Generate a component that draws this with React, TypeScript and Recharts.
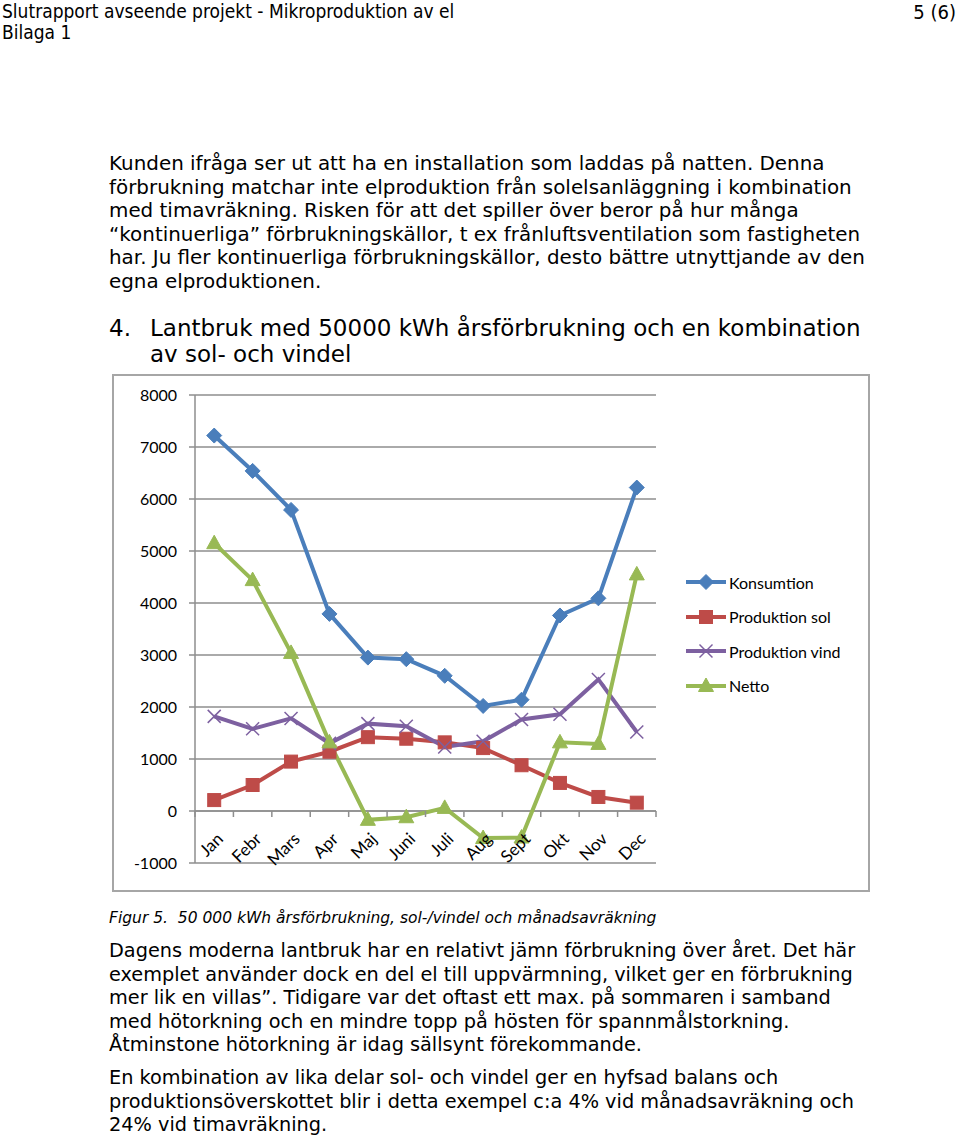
import React from 'react';
import {CartesianGrid, Legend, Line, LineChart, ReferenceLine, XAxis, YAxis} from 'recharts';

const months = ['Jan', 'Febr', 'Mars', 'Apr', 'Maj', 'Juni', 'Juli', 'Aug', 'Sept', 'Okt', 'Nov', 'Dec'];
const konsumtion = [7220, 6540, 5790, 3790, 2950, 2920, 2600, 2020, 2140, 3760, 4090, 6220];
const produktionSol = [210, 500, 950, 1140, 1420, 1390, 1320, 1210, 880, 540, 270, 160];
const produktionVind = [1820, 1580, 1780, 1300, 1680, 1630, 1230, 1340, 1760, 1860, 2530, 1520];
const netto = [5150, 4440, 3040, 1320, -170, -120, 60, -520, -510, 1320, 1290, 4550];
const yTicks = [-1000, 0, 1000, 2000, 3000, 4000, 5000, 6000, 7000, 8000];
const legendOrder = ['konsumtion', 'sol', 'vind', 'netto'];

const paragraph1 = [
    'Kunden ifråga ser ut att ha en installation som laddas på natten. Denna',
    'förbrukning matchar inte elproduktion från solelsanläggning i kombination',
    'med timavräkning. Risken för att det spiller över beror på hur många',
    '“kontinuerliga” förbrukningskällor, t ex frånluftsventilation som fastigheten',
    'har. Ju fler kontinuerliga förbrukningskällor, desto bättre utnyttjande av den',
    'egna elproduktionen.',
];
const paragraph2 = [
    'Dagens moderna lantbruk har en relativt jämn förbrukning över året. Det här',
    'exemplet använder dock en del el till uppvärmning, vilket ger en förbrukning',
    'mer lik en villas”. Tidigare var det oftast ett max. på sommaren i samband',
    'med hötorkning och en mindre topp på hösten för spannmålstorkning.',
    'Åtminstone hötorkning är idag sällsynt förekommande.',
];
const paragraph3 = [
    'En kombination av lika delar sol- och vindel ger en hyfsad balans och',
    'produktionsöverskottet blir i detta exempel c:a 4% vid månadsavräkning och',
    '24% vid timavräkning.',
];

const data = months.map((m, i) => ({
    month: m,
    konsumtion: konsumtion[i],
    sol: produktionSol[i],
    vind: produktionVind[i],
    netto: netto[i],
}));

const COLORS = {konsumtion: '#4A7EBB', sol: '#BE4B48', vind: '#7D60A0', netto: '#98B954'};
const NAMES = {konsumtion: 'Konsumtion', sol: 'Produktion sol', vind: 'Produktion vind', netto: 'Netto'};

const CHART_W = 758;
const CHART_H = 518;
const PLOT_LEFT = 83;
const PLOT_TOP = 21;
const PLOT_W = 461;
const PLOT_H = 468;
const LEGEND_W = 185;
const Y_MIN = -1000;
const Y_MAX = 8000;
const ZERO_Y = PLOT_TOP + PLOT_H * (Y_MAX / (Y_MAX - Y_MIN));
const BAND = PLOT_W / months.length;
const CHART_FONT = 'Lato, "Open Sans", sans-serif';
const GRID = '#8e8e8e';

const marker = (kind: string, cx: number, cy: number, key?: string | number) => {
    const c = (COLORS as any)[kind];
    if (kind === 'konsumtion') {
        return <polygon key={key} points={`${cx},${cy - 7.5} ${cx + 7.5},${cy} ${cx},${cy + 7.5} ${cx - 7.5},${cy}`} fill={c} stroke={c}/>;
    }
    if (kind === 'sol') {
        return <rect key={key} x={cx - 6.5} y={cy - 6.5} width={13} height={13} fill={c} stroke={c}/>;
    }
    if (kind === 'vind') {
        return (
            <g key={key} stroke={c} strokeWidth={1.5}>
                <line x1={cx - 6.5} y1={cy - 6.5} x2={cx + 6.5} y2={cy + 6.5}/>
                <line x1={cx - 6.5} y1={cy + 6.5} x2={cx + 6.5} y2={cy - 6.5}/>
            </g>
        );
    }
    return <polygon key={key} points={`${cx},${cy - 8} ${cx + 7.5},${cy + 5.5} ${cx - 7.5},${cy + 5.5}`} fill={c} stroke={c}/>;
};

const dotFor = (kind: string) => (props: any) => marker(kind, props.cx, props.cy, props.index);

const MonthTick = (props: any) => {
    const {x, index, payload} = props;
    const last = index === months.length - 1;
    return (
        <g>
            <line x1={x - BAND / 2} y1={ZERO_Y} x2={x - BAND / 2} y2={ZERO_Y + 6} stroke={GRID} strokeWidth={1.5}/>
            {last && <line x1={x + BAND / 2} y1={ZERO_Y} x2={x + BAND / 2} y2={ZERO_Y + 6} stroke={GRID} strokeWidth={1.5}/>}
            <text x={x + 10} y={ZERO_Y + 29} transform={`rotate(-45 ${x + 10} ${ZERO_Y + 29})`} textAnchor="end"
                  fontFamily={CHART_FONT} fontSize={17} fill="#000">
                {payload.value}
            </text>
        </g>
    );
};

const LegendContent = (props: any) => {
    const items = [...(props.payload || [])].sort((a: any, b: any) => legendOrder.indexOf(a.dataKey) - legendOrder.indexOf(b.dataKey));
    return (
        <div style={{fontFamily: CHART_FONT, fontSize: 16, color: '#000', width: LEGEND_W}}>
            {items.map((entry: any) => (
                <div key={entry.dataKey} style={{display: 'flex', alignItems: 'center', height: 34.5}}>
                    <svg width={43} height={20} style={{marginRight: 1}}>
                        <line x1={1} y1={10} x2={41} y2={10} stroke={entry.color} strokeWidth={4}/>
                        {marker(entry.dataKey, 21, 10)}
                    </svg>
                    <span>{entry.value}</span>
                </div>
            ))}
        </div>
    );
};

const Lines = ({lines, top, left = 109, lineHeight = 23.5, fontSize = 19.9}: {lines: string[]; top: number; left?: number; lineHeight?: number; fontSize?: number}) => (
    <div style={{position: 'absolute', left, top: top - lineHeight / 2, fontSize, lineHeight: `${lineHeight}px`, whiteSpace: 'pre'}}>
        {lines.map((l, i) => <div key={i}>{l}</div>)}
    </div>
);

export default function App() {
    const rightMargin = CHART_W - PLOT_LEFT - PLOT_W - LEGEND_W;
    return (
        <div style={{position: 'absolute', left: 0, top: 0, width: 960, height: 1136, background: '#fff', fontFamily: '"DejaVu Sans", Verdana, sans-serif', color: '#000', overflow: 'hidden'}}>
            <div style={{position: 'absolute', left: 2, top: 1, fontFamily: '"DejaVu Sans Condensed", sans-serif', fontSize: 19, lineHeight: '21px'}}>
                <div>Slutrapport avseende projekt - Mikroproduktion av el</div>
                <div>Bilaga 1</div>
            </div>
            <div style={{position: 'absolute', right: 4, top: 1, fontFamily: '"DejaVu Sans Condensed", sans-serif', fontSize: 20, lineHeight: '22px'}}>5 (6)</div>

            <Lines lines={paragraph1} top={164}/>

            <div style={{position: 'absolute', left: 109, top: 315, fontSize: 23, lineHeight: '26px'}}>4.</div>
            <Lines lines={['Lantbruk med 50000 kWh årsförbrukning och en kombination', 'av sol- och vindel']} top={328} left={150} lineHeight={26} fontSize={23}/>

            <div style={{position: 'absolute', left: 112, top: 374, width: CHART_W, height: CHART_H, boxSizing: 'border-box', border: '2px solid #a6a6a6'}}/>
            <div style={{position: 'absolute', left: 112, top: 374}}>
                <LineChart width={CHART_W} height={CHART_H} data={data}
                           margin={{top: PLOT_TOP, right: rightMargin, bottom: CHART_H - PLOT_TOP - PLOT_H - 1, left: PLOT_LEFT - 60}}>
                    <CartesianGrid vertical={false} stroke={GRID} strokeWidth={1.5}/>
                    <XAxis dataKey="month" height={1} axisLine={false} tickLine={false} interval={0}
                           padding={{left: BAND / 2, right: BAND / 2}} tick={<MonthTick/>}/>
                    <YAxis width={60} domain={[Y_MIN, Y_MAX]} ticks={yTicks} interval={0} stroke={GRID} strokeWidth={1.5}
                           tickSize={6} tickMargin={12} tick={{fill: '#000', fontSize: 16, fontFamily: CHART_FONT}}/>
                    <ReferenceLine y={0} stroke={GRID} strokeWidth={1.5}/>
                    <Line dataKey="konsumtion" name={NAMES.konsumtion} stroke={COLORS.konsumtion} strokeWidth={4} dot={dotFor('konsumtion')} isAnimationActive={false}/>
                    <Line dataKey="sol" name={NAMES.sol} stroke={COLORS.sol} strokeWidth={4} dot={dotFor('sol')} isAnimationActive={false}/>
                    <Line dataKey="vind" name={NAMES.vind} stroke={COLORS.vind} strokeWidth={4} dot={dotFor('vind')} isAnimationActive={false}/>
                    <Line dataKey="netto" name={NAMES.netto} stroke={COLORS.netto} strokeWidth={4} dot={dotFor('netto')} isAnimationActive={false}/>
                    <Legend content={<LegendContent/>} layout="vertical" align="right" verticalAlign="middle"
                            wrapperStyle={{left: 573, top: 191, width: LEGEND_W, bottom: 'auto', right: 'auto'}}/>
                </LineChart>
            </div>

            <div style={{position: 'absolute', left: 109, top: 907, fontSize: 15.5, lineHeight: '22px', fontStyle: 'italic', whiteSpace: 'pre'}}>
                {'Figur 5.  50 000 kWh årsförbrukning, sol-/vindel och månadsavräkning'}
            </div>

            <Lines lines={paragraph2} top={951} fontSize={19.3}/>
            <Lines lines={paragraph3} top={1078} fontSize={19.3}/>
        </div>
    );
}
